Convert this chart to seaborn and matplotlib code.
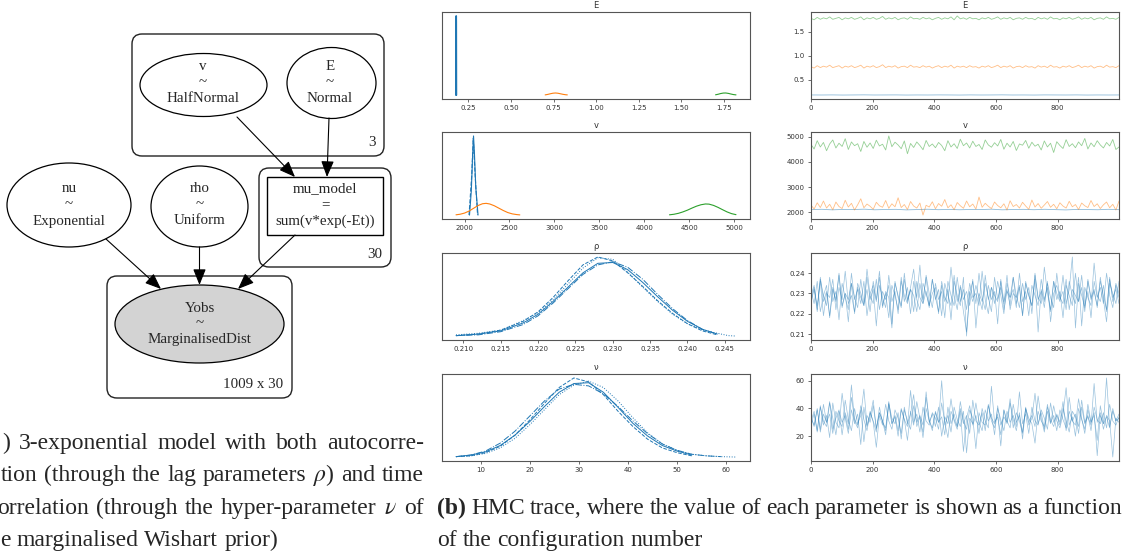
import numpy as np
import matplotlib
matplotlib.use("Agg")
import matplotlib.pyplot as plt
import seaborn as sns
from matplotlib.patches import Ellipse, FancyBboxPatch, Rectangle, FancyArrowPatch, ArrowStyle

# chain colours
BLUE, ORANGE, GREEN = "#1f77b4", "#ff7f0e", "#2ca02c"

# ---- posterior densities (left column) ----
E_KDE_BLUE_X = [0.1768, 0.1776, 0.1780, 0.1784, 0.1792]
E_KDE_BLUE_Y = [0.0, 0.92, 1.0, 0.92, 0.0]
E_KDE_ORANGE_X = [0.700, 0.715, 0.730, 0.745, 0.760, 0.775, 0.790, 0.805, 0.820, 0.830]
E_KDE_ORANGE_Y = [0.002, 0.008, 0.016, 0.023, 0.026, 0.023, 0.016, 0.009, 0.004, 0.002]
E_KDE_GREEN_X = [1.700, 1.715, 1.730, 1.745, 1.760, 1.775, 1.790, 1.805, 1.820]
E_KDE_GREEN_Y = [0.003, 0.010, 0.019, 0.025, 0.026, 0.021, 0.013, 0.006, 0.002]

V_KDE_BLUE_X = [2055, 2075, 2090, 2100, 2110, 2125, 2150]
V_KDE_BLUE_Y = [0.0, 0.30, 0.75, 1.0, 0.78, 0.35, 0.0]
V_KDE_BLUE2_X = [2050, 2080, 2097, 2118, 2145]
V_KDE_BLUE2_Y = [0.0, 0.50, 0.97, 0.50, 0.0]
V_KDE_ORANGE_X = [1905, 1950, 2000, 2050, 2100, 2150, 2200, 2240, 2280, 2330, 2380, 2430, 2480, 2530, 2580, 2615]
V_KDE_ORANGE_Y = [0.003, 0.010, 0.025, 0.050, 0.085, 0.120, 0.143, 0.148, 0.140, 0.118, 0.088, 0.058, 0.032, 0.015, 0.006, 0.002]
V_KDE_GREEN_X = [4280, 4330, 4380, 4430, 4480, 4530, 4580, 4630, 4680, 4720, 4770, 4820, 4870, 4920, 4970, 5020]
V_KDE_GREEN_Y = [0.003, 0.010, 0.022, 0.040, 0.062, 0.088, 0.112, 0.130, 0.140, 0.138, 0.122, 0.097, 0.068, 0.040, 0.018, 0.005]

RHO_KDE_X = [0.209, 0.212, 0.215, 0.218, 0.220, 0.222, 0.224, 0.226, 0.228, 0.230,
             0.232, 0.234, 0.236, 0.238, 0.240, 0.242, 0.244, 0.2455, 0.2465]
RHO_KDE_CHAINS = [
    [0.01, 0.03, 0.07, 0.17, 0.28, 0.44, 0.62, 0.80, 0.92, 0.93, 0.84, 0.68, 0.50, 0.33, 0.19, 0.09, 0.03],
    [0.01, 0.03, 0.08, 0.19, 0.31, 0.49, 0.70, 0.90, 1.00, 0.95, 0.80, 0.63, 0.45, 0.29, 0.16, 0.07, 0.02],
    [0.02, 0.04, 0.08, 0.20, 0.30, 0.46, 0.66, 0.86, 0.99, 0.97, 0.81, 0.62, 0.44, 0.28, 0.16, 0.08, 0.04, 0.01, 0.005],
    [0.01, 0.02, 0.06, 0.15, 0.26, 0.42, 0.60, 0.78, 0.90, 0.94, 0.87, 0.72, 0.53, 0.35, 0.20, 0.09, 0.03],
]

NU_KDE_X = [5, 8, 11, 14, 17, 20, 23, 26, 29, 32, 35, 38, 41, 44, 47, 50, 53, 56, 59, 62]
NU_KDE_CHAINS = [
    [0.01, 0.03, 0.07, 0.15, 0.28, 0.45, 0.64, 0.82, 0.93, 0.94, 0.82, 0.63, 0.43, 0.27, 0.15, 0.08, 0.03],
    [0.01, 0.02, 0.06, 0.14, 0.28, 0.47, 0.68, 0.88, 1.00, 0.95, 0.79, 0.58, 0.39, 0.23, 0.12, 0.06, 0.02],
    [0.01, 0.02, 0.05, 0.12, 0.24, 0.41, 0.60, 0.79, 0.91, 0.96, 0.88, 0.71, 0.50, 0.31, 0.17, 0.09, 0.04, 0.02, 0.01, 0.005],
    [0.01, 0.03, 0.08, 0.18, 0.33, 0.52, 0.71, 0.86, 0.92, 0.90, 0.80, 0.64, 0.46, 0.30, 0.17, 0.09, 0.04, 0.02, 0.01],
]
KDE_STYLES = ["-", "--", ":", "-."]

# ---- traces (right column), hand-read samples across the 1000 draws ----
E_TRACE_GREEN = [1.78, 1.75, 1.80, 1.76, 1.79, 1.77, 1.81, 1.76, 1.78, 1.80, 1.75, 1.79, 1.77, 1.80, 1.76, 1.78, 1.81, 1.75, 1.79, 1.77,
                 1.80, 1.76, 1.78, 1.82, 1.76, 1.79, 1.77, 1.80, 1.75, 1.78, 1.79, 1.76, 1.81, 1.77, 1.78, 1.76, 1.80, 1.77, 1.79, 1.75,
                 1.78, 1.80, 1.76, 1.79, 1.77, 1.81, 1.75, 1.83, 1.77, 1.79, 1.76, 1.80, 1.77, 1.78, 1.75, 1.79, 1.77, 1.80, 1.76, 1.78,
                 1.81, 1.76, 1.79, 1.77, 1.80, 1.75, 1.78, 1.79, 1.76, 1.80, 1.77, 1.78, 1.75, 1.80, 1.77, 1.79, 1.76, 1.81, 1.77, 1.78,
                 1.75, 1.79, 1.77, 1.80, 1.76, 1.78, 1.81, 1.76, 1.79, 1.77, 1.80, 1.75, 1.78, 1.79, 1.76, 1.81, 1.77, 1.78, 1.76, 1.80]
E_TRACE_ORANGE = [0.77, 0.74, 0.79, 0.75, 0.78, 0.76, 0.80, 0.75, 0.77, 0.79, 0.74, 0.78, 0.76, 0.79, 0.75, 0.77, 0.80, 0.74, 0.78, 0.76,
                  0.79, 0.75, 0.77, 0.81, 0.75, 0.78, 0.76, 0.79, 0.74, 0.77, 0.78, 0.75, 0.80, 0.76, 0.77, 0.75, 0.79, 0.76, 0.78, 0.74,
                  0.77, 0.79, 0.75, 0.78, 0.76, 0.80, 0.74, 0.78, 0.76, 0.78, 0.75, 0.79, 0.76, 0.77, 0.74, 0.78, 0.76, 0.79, 0.75, 0.77,
                  0.80, 0.75, 0.78, 0.76, 0.79, 0.74, 0.77, 0.78, 0.75, 0.79, 0.76, 0.77, 0.74, 0.79, 0.76, 0.78, 0.75, 0.80, 0.76, 0.77,
                  0.74, 0.78, 0.76, 0.79, 0.75, 0.77, 0.80, 0.75, 0.78, 0.76, 0.79, 0.74, 0.77, 0.78, 0.75, 0.80, 0.76, 0.77, 0.75, 0.79]
E_TRACE_BLUE = [0.178, 0.177, 0.179, 0.176, 0.178, 0.180, 0.177, 0.178, 0.179, 0.176, 0.178, 0.177, 0.179, 0.178, 0.176,
                0.179, 0.177, 0.178, 0.180, 0.177, 0.178, 0.176, 0.179, 0.178, 0.177, 0.179, 0.176, 0.178, 0.177, 0.178]

V_TRACE_GREEN = [4700, 4520, 4850, 4600, 4780, 4450, 4720, 4880, 4560, 4750, 4620, 4930, 4500, 4800, 4650, 4730, 4420, 4820, 4590, 4760,
                 4540, 4870, 4640, 4710, 4480, 5040, 4610, 4790, 4680, 4530, 4840, 4330, 4740, 4580, 4800, 4660, 4490, 4860, 4620, 4720,
                 4570, 4780, 4660, 4450, 4850, 4600, 4730, 4540, 4910, 4650, 4760, 4560, 4830, 4620, 4700, 4500, 4880, 4680, 4590, 4770,
                 4640, 4900, 4510, 4750, 4600, 4820, 4460, 4720, 4670, 4860, 4550, 4790, 4630, 4710, 4480, 4840, 4600, 4750, 4380, 4810,
                 4660, 4540, 4890, 4620, 4730, 4570, 4800, 4650, 4940, 4520, 4760, 4610, 4850, 4680, 4560, 4780, 4640, 4900, 4500, 4600]
V_TRACE_ORANGE = [2280, 2120, 2370, 2180, 2440, 2160, 2310, 2090, 2400, 2220, 2140, 2470, 2200, 2350, 2080, 2290, 2530, 2170, 2320, 2230,
                  2110, 2390, 2250, 2190, 2460, 2150, 2330, 2210, 2570, 2180, 2300, 2100, 2420, 2240, 2160, 2360, 1880, 2270, 2200, 2410,
                  2130, 2340, 2230, 2500, 2170, 2290, 2090, 2380, 2250, 2150, 2440, 2210, 2320, 2120, 2600, 2190, 2350, 2230, 2140, 2400,
                  2260, 2170, 2330, 2080, 2450, 2220, 2300, 2160, 2390, 2240, 2110, 2480, 2200, 2340, 2150, 2280, 2420, 2190, 2310, 2130,
                  2370, 2240, 2160, 2430, 2210, 2300, 2100, 2360, 2250, 2180, 2460, 2220, 2330, 2140, 2290, 2400, 2170, 2310, 2080, 2440]
V_TRACE_BLUE = [2095, 2110, 2088, 2104, 2098, 2115, 2090, 2102, 2108, 2086, 2100, 2112, 2094, 2106, 2091,
                2103, 2099, 2114, 2089, 2101, 2107, 2093, 2110, 2097, 2085, 2105, 2100, 2092, 2109, 2096]

RHO_TRACES = [
    [.229, .234, .222, .238, .226, .231, .219, .233, .227, .240, .224, .230, .216, .235, .228, .223, .237, .225, .232, .221,
     .236, .227, .241, .224, .230, .218, .234, .229, .222, .238, .226, .233, .220, .236, .228, .244, .225, .231, .223, .237,
     .227, .232, .219, .235, .229, .224, .239, .226, .233, .221, .211, .230, .236, .225, .240, .228, .222, .234, .227, .231,
     .215, .237, .226, .232, .224, .238, .229, .223, .235, .227, .233, .220, .239, .228, .225, .243, .230, .222, .236, .227,
     .231, .218, .234, .229, .224, .240, .226, .233, .221, .237, .228, .232, .223, .238, .227, .216, .235, .230, .225, .236],
    [.226, .232, .224, .236, .219, .230, .228, .237, .222, .233, .227, .241, .225, .229, .221, .235, .230, .224, .238, .227,
     .232, .214, .234, .228, .223, .239, .226, .231, .220, .236, .229, .225, .233, .242, .227, .222, .235, .230, .224, .237,
     .228, .221, .234, .226, .232, .217, .236, .229, .224, .238, .209, .231, .226, .234, .228, .222, .239, .227, .233, .225,
     .236, .229, .220, .235, .228, .232, .223, .240, .226, .231, .219, .234, .229, .224, .237, .227, .233, .221, .236, .230,
     .226, .239, .225, .232, .248, .213, .235, .229, .223, .236, .227, .231, .224, .236, .229, .222, .238, .226, .234, .228],
    [.231, .225, .236, .221, .229, .234, .218, .232, .226, .239, .223, .230, .227, .235, .220, .233, .228, .224, .242, .229,
     .225, .237, .222, .231, .227, .234, .215, .236, .228, .223, .240, .226, .232, .229, .221, .235, .227, .238, .224, .230,
     .233, .220, .236, .228, .225, .243, .229, .222, .234, .227, .231, .224, .237, .213, .230, .226, .235, .228, .221, .238,
     .227, .233, .225, .239, .222, .230, .228, .234, .219, .236, .229, .224, .237, .211, .232, .226, .235, .228, .223, .240,
     .227, .231, .222, .236, .229, .225, .238, .214, .233, .228, .224, .245, .229, .226, .234, .221, .237, .228, .232, .225],
    [.227, .233, .221, .237, .229, .224, .238, .226, .231, .217, .235, .228, .222, .240, .227, .232, .225, .236, .219, .230,
     .234, .226, .238, .223, .231, .228, .213, .235, .229, .224, .237, .227, .232, .221, .236, .228, .225, .239, .230, .223,
     .235, .227, .231, .218, .236, .229, .224, .238, .226, .232, .222, .235, .228, .230, .224, .241, .227, .220, .233, .229,
     .226, .236, .222, .231, .228, .238, .225, .233, .219, .235, .229, .224, .240, .227, .231, .223, .236, .216, .230, .234,
     .228, .225, .237, .222, .232, .229, .226, .239, .224, .231, .218, .236, .228, .233, .225, .240, .229, .223, .235, .230],
]

NU_TRACES = [
    [31, 38, 24, 42, 28, 35, 19, 44, 30, 26, 51, 33, 22, 39, 29, 36, 14, 41, 27, 34,
     46, 25, 37, 31, 21, 43, 29, 35, 24, 40, 32, 17, 38, 28, 45, 33, 23, 52, 30, 36,
     27, 41, 20, 34, 29, 47, 31, 25, 38, 9, 33, 42, 28, 35, 22, 40, 31, 26, 56, 30,
     34, 21, 39, 29, 44, 32, 24, 37, 18, 41, 30, 35, 27, 49, 33, 23, 38, 29, 42, 31,
     26, 36, 55, 28, 34, 20, 40, 32, 25, 43, 30, 37, 6, 35, 29, 62, 27, 38, 31, 33],
    [34, 27, 40, 23, 36, 30, 45, 25, 33, 39, 21, 37, 29, 57, 31, 26, 42, 32, 24, 38,
     30, 12, 35, 28, 43, 31, 25, 39, 33, 22, 41, 29, 36, 50, 27, 34, 19, 40, 31, 26,
     37, 30, 60, 28, 35, 23, 41, 32, 27, 38, 8, 33, 29, 44, 30, 24, 39, 31, 36, 21,
     42, 28, 34, 30, 47, 26, 37, 31, 22, 40, 33, 29, 15, 38, 31, 27, 43, 30, 35, 24,
     39, 32, 26, 48, 31, 36, 22, 41, 29, 34, 28, 58, 30, 37, 25, 35, 31, 5, 33, 30],
    [29, 36, 23, 41, 31, 27, 44, 33, 21, 38, 30, 35, 25, 48, 32, 28, 39, 16, 35, 30,
     42, 26, 37, 31, 24, 45, 29, 34, 20, 39, 32, 27, 53, 30, 36, 23, 41, 31, 28, 37,
     33, 25, 44, 30, 19, 38, 32, 27, 40, 29, 35, 22, 46, 31, 28, 37, 24, 42, 33, 29,
     36, 13, 39, 31, 26, 43, 30, 35, 23, 40, 28, 33, 51, 29, 37, 25, 41, 32, 27, 36,
     30, 45, 24, 38, 31, 28, 47, 33, 22, 39, 30, 35, 17, 42, 29, 34, 26, 40, 31, 36],
    [33, 28, 39, 25, 43, 30, 36, 22, 38, 31, 27, 46, 32, 24, 40, 29, 35, 54, 28, 37,
     31, 23, 41, 30, 26, 44, 33, 29, 37, 18, 39, 31, 25, 42, 30, 35, 28, 48, 32, 24,
     38, 30, 34, 21, 41, 29, 36, 27, 45, 31, 25, 39, 33, 11, 37, 30, 28, 43, 31, 26,
     40, 32, 24, 38, 30, 35, 27, 52, 29, 36, 22, 41, 31, 28, 39, 33, 25, 44, 30, 35,
     28, 40, 31, 23, 38, 34, 27, 46, 30, 35, 24, 41, 32, 29, 37, 26, 43, 31, 28, 34],
]

# tick labels
E_KDE_TICKS = [0.25, 0.50, 0.75, 1.00, 1.25, 1.50, 1.75]
V_KDE_TICKS = [2000, 2500, 3000, 3500, 4000, 4500, 5000]
RHO_KDE_TICKS = [0.210, 0.215, 0.220, 0.225, 0.230, 0.235, 0.240, 0.245]
NU_KDE_TICKS = [10, 20, 30, 40, 50, 60]
DRAW_TICKS = [0, 200, 400, 600, 800]
E_TRACE_TICKS = [0.5, 1.0, 1.5]
V_TRACE_TICKS = [2000, 3000, 4000, 5000]
RHO_TRACE_TICKS = [0.21, 0.22, 0.23, 0.24]
NU_TRACE_TICKS = [20, 40, 60]
N_DRAWS = 1000

SERIF = "Liberation Serif"
NODE_SIZE = 10.8
CAPTION_SIZE = 17


def curve(ax, x, y, color, ls="-", lw=0.8, alpha=1.0):
    sns.lineplot(x=list(x), y=list(y), ax=ax, color=color, linestyle=ls, linewidth=lw,
                 alpha=alpha, sort=False, estimator=None, errorbar=None)


def trace(ax, vals, color, lw=0.6, alpha=0.5):
    draws = np.linspace(0, N_DRAWS - 1, len(vals))
    curve(ax, draws, vals, color, lw=lw, alpha=alpha)


def style_axis(ax, title, fmt):
    ax.set_title(title, fontsize=6, pad=3, color="#333333")
    ax.set_xlabel("")
    ax.set_ylabel("")
    for s in ax.spines.values():
        s.set_visible(True)
        s.set_color("#555555")
        s.set_linewidth(0.8)
    ax.tick_params(labelsize=5, length=2.5, width=0.6, colors="#555555", labelcolor="#333333", pad=2)
    ax.xaxis.set_major_formatter(matplotlib.ticker.FormatStrFormatter(fmt))


def node(ax, x, y, lines):
    for i, s in enumerate(lines):
        ax.text(x, y + (i - 1) * 16, s, ha="center", va="center", family=SERIF, fontsize=NODE_SIZE)


def arrow(ax, a, b):
    ax.add_patch(FancyArrowPatch(a, b, arrowstyle=ArrowStyle("-|>", head_length=0.7, head_width=0.28),
                                 mutation_scale=14, lw=0.8, color="black", shrinkA=0, shrinkB=0))


def plate(ax, x0, y0, x1, y1):
    ax.add_patch(FancyBboxPatch((x0, y0), x1 - x0, y1 - y0, boxstyle="round,pad=0,rounding_size=10",
                                fc="none", ec="#222222", lw=1.0))


def caption_line(ax, renderer, text, x0, x1, y, bold_first=False):
    # place words one by one so that the line is justified between x0 and x1
    words = text.split(" ")
    objs = []
    for i, w in enumerate(words):
        objs.append(ax.text(0, y, w, ha="left", va="baseline", family=SERIF, fontsize=CAPTION_SIZE,
                            fontweight="bold" if (bold_first and i == 0) else "normal"))
    widths = [t.get_window_extent(renderer).width for t in objs]
    if x1 is None:
        gap = CAPTION_SIZE * 0.35
    else:
        gap = (x1 - x0 - sum(widths)) / (len(words) - 1)
    x = x0
    for t, w in zip(objs, widths):
        t.set_x(x)
        x += w + gap


sns.set_style("ticks")
plt.rcParams["font.family"] = ["DejaVu Sans"]
plt.rcParams["mathtext.fontset"] = "stix"

fig = plt.figure(figsize=(11.27, 5.59), dpi=100)

# background canvas in pixel units for the graphical model and captions
bg = fig.add_axes([0, 0, 1, 1])
bg.set_xlim(0, 1127)
bg.set_ylim(559, 0)
bg.axis("off")

plate(bg, 132, 34, 384, 156)
plate(bg, 259, 168, 391, 267)
plate(bg, 107, 276, 292, 398)
bg.add_patch(Ellipse((203.5, 85), 127, 63, fc="white", ec="black", lw=0.9))
bg.add_patch(Ellipse((331.5, 83), 89, 71, fc="white", ec="black", lw=0.9))
bg.add_patch(Ellipse((69, 205), 124, 84, fc="white", ec="black", lw=0.9))
bg.add_patch(Ellipse((199.5, 206.5), 97, 81, fc="white", ec="black", lw=0.9))
bg.add_patch(Ellipse((199.5, 324), 169, 78, fc="#d3d3d3", ec="black", lw=0.9))
bg.add_patch(Rectangle((267, 177), 116, 58, fc="white", ec="black", lw=1.0))

node(bg, 203, 83, ["v", "~", "HalfNormal"])
node(bg, 330, 83, ["E", "~", "Normal"])
node(bg, 69, 205, ["nu", "~", "Exponential"])
node(bg, 200, 205, ["rho", "~", "Uniform"])
node(bg, 325, 205, ["mu_model", "=", "sum(v*exp(-Et))"])
node(bg, 199.5, 324, ["Yobs", "~", "MarginalisedDist"])
bg.text(372, 143, "3", ha="center", va="center", family=SERIF, fontsize=NODE_SIZE)
bg.text(375, 254, "30", ha="center", va="center", family=SERIF, fontsize=NODE_SIZE)
bg.text(283, 385, "1009 x 30", ha="right", va="center", family=SERIF, fontsize=NODE_SIZE)

arrow(bg, (237, 117), (295, 177))
arrow(bg, (329, 118), (327, 177))
arrow(bg, (106, 239), (161, 289))
arrow(bg, (199.5, 247), (199.5, 285))
arrow(bg, (295, 235), (238, 289))

renderer = fig.canvas.get_renderer()
caption_line(bg, renderer, ") 3-exponential model with both autocorre-", 2, 424, 449)
caption_line(bg, renderer, "tion (through the lag parameters $\\rho$) and time", 1, 424, 481)
caption_line(bg, renderer, "orrelation (through the hyper-parameter $\\nu$ of", -3, 424, 514)
caption_line(bg, renderer, "e marginalised Wishart prior)", 0, None, 546)
caption_line(bg, renderer, "(b) HMC trace, where the value of each parameter is shown as a function",
             437, 1122, 514, bold_first=True)
caption_line(bg, renderer, "of the configuration number", 437, None, 546)

# trace-plot grid
W = 308 / 1127
H = 87 / 559
LEFT_X, RIGHT_X = 442 / 1127, 811 / 1127
ROW_BOTTOMS = [1 - 99 / 559, 1 - 219 / 559, 1 - 340 / 559, 1 - 461 / 559]

axk = [fig.add_axes([LEFT_X, b, W, H]) for b in ROW_BOTTOMS]
axt = [fig.add_axes([RIGHT_X, b, W, H]) for b in ROW_BOTTOMS]

# E
curve(axk[0], E_KDE_BLUE_X, E_KDE_BLUE_Y, BLUE, lw=1.2)
curve(axk[0], E_KDE_ORANGE_X, E_KDE_ORANGE_Y, ORANGE)
curve(axk[0], E_KDE_GREEN_X, E_KDE_GREEN_Y, GREEN)
axk[0].set_xticks(E_KDE_TICKS)
style_axis(axk[0], "E", "%.2f")

trace(axt[0], E_TRACE_BLUE, BLUE)
trace(axt[0], E_TRACE_ORANGE, ORANGE)
trace(axt[0], E_TRACE_GREEN, GREEN)
axt[0].set_yticks(E_TRACE_TICKS)
style_axis(axt[0], "E", "%d")

# v
curve(axk[1], V_KDE_BLUE_X, V_KDE_BLUE_Y, BLUE)
curve(axk[1], V_KDE_BLUE2_X, V_KDE_BLUE2_Y, BLUE, ls="--")
curve(axk[1], V_KDE_ORANGE_X, V_KDE_ORANGE_Y, ORANGE)
curve(axk[1], V_KDE_GREEN_X, V_KDE_GREEN_Y, GREEN)
axk[1].set_xticks(V_KDE_TICKS)
style_axis(axk[1], "v", "%d")

trace(axt[1], V_TRACE_BLUE, BLUE)
trace(axt[1], V_TRACE_ORANGE, ORANGE)
trace(axt[1], V_TRACE_GREEN, GREEN)
axt[1].set_yticks(V_TRACE_TICKS)
style_axis(axt[1], "v", "%d")

# rho
for ys, ls in zip(RHO_KDE_CHAINS, KDE_STYLES):
    curve(axk[2], RHO_KDE_X[:len(ys)], ys, BLUE, ls=ls, lw=0.7)
axk[2].set_xticks(RHO_KDE_TICKS)
style_axis(axk[2], "ρ", "%.3f")

for vals in RHO_TRACES:
    trace(axt[2], vals, BLUE, lw=0.5, alpha=0.45)
axt[2].set_yticks(RHO_TRACE_TICKS)
style_axis(axt[2], "ρ", "%d")

# nu
for ys, ls in zip(NU_KDE_CHAINS, KDE_STYLES):
    curve(axk[3], NU_KDE_X[:len(ys)], ys, BLUE, ls=ls, lw=0.7)
axk[3].set_xticks(NU_KDE_TICKS)
style_axis(axk[3], "ν", "%d")

for vals in NU_TRACES:
    trace(axt[3], vals, BLUE, lw=0.5, alpha=0.45)
axt[3].set_yticks(NU_TRACE_TICKS)
style_axis(axt[3], "ν", "%d")

for ax in axk:
    ax.set_yticks([])
for ax in axt:
    ax.set_xlim(0, N_DRAWS - 1)
    ax.set_xticks(DRAW_TICKS)
axt[0].yaxis.set_major_formatter(matplotlib.ticker.FormatStrFormatter("%.1f"))
axt[2].yaxis.set_major_formatter(matplotlib.ticker.FormatStrFormatter("%.2f"))

fig.savefig("out.png", dpi=100)
